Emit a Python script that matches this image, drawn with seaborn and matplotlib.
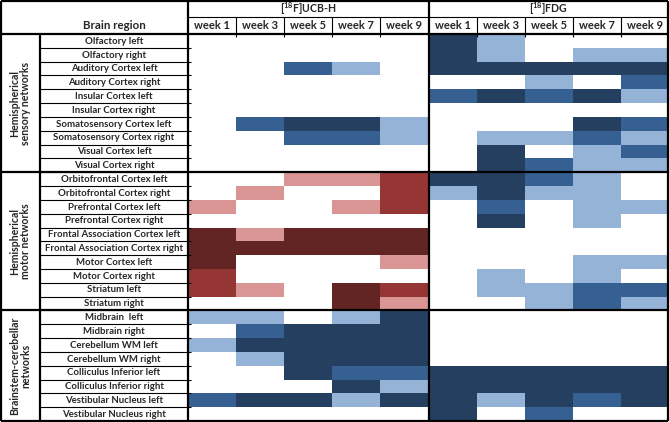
import numpy as np
import pandas as pd
import matplotlib
matplotlib.use("Agg")
import matplotlib.pyplot as plt
import seaborn as sns
from matplotlib.colors import ListedColormap

# table content
tracers = ["[$^{18}$F]UCB-H", "[$^{18}$]FDG"]
weeks = ["week 1", "week 3", "week 5", "week 7", "week 9"]
groups = ["Hemispherical\nsensory networks",
          "Hemispherical\nmotor networks",
          "Brainstem-cerebellar\nnetworks"]
group_sizes = [10, 10, 8]
regions = [
    "Olfactory left", "Olfactory right", "Auditory Cortex left", "Auditory Cortex right",
    "Insular Cortex left", "Insular Cortex right", "Somatosensory Cortex left",
    "Somatosensory Cortex right", "Visual Cortex left", "Visual Cortex right",
    "Orbitofrontal Cortex left", "Orbitofrontal Cortex right", "Prefrontal Cortex left",
    "Prefrontal Cortex right", "Frontal Association Cortex left",
    "Frontal Association Cortex right", "Motor Cortex left", "Motor Cortex right",
    "Striatum left", "Striatum right",
    "Midbrain  left", "Midbrain right", "Cerebellum WM left", "Cerebellum WM right",
    "Colliculus Inferior left", "Colliculus Inferior right", "Vestibular Nucleus left",
    "Vestibular Nucleus right",
]

# levels: 1..3 = blue (light, mid, dark), -1..-3 = red (light, mid, dark), 0 = none
ucbh = [
    [0, 0, 0, 0, 0], [0, 0, 0, 0, 0], [0, 0, 2, 1, 0], [0, 0, 0, 0, 0],
    [0, 0, 0, 0, 0], [0, 0, 0, 0, 0], [0, 2, 3, 3, 1], [0, 0, 2, 2, 1],
    [0, 0, 0, 0, 0], [0, 0, 0, 0, 0],
    [0, 0, -1, -1, -2], [0, -1, 0, 0, -2], [-1, 0, 0, -1, -2], [0, 0, 0, 0, 0],
    [-3, -1, -3, -3, -3], [-3, -3, -3, -3, -3], [-3, 0, 0, 0, -1], [-2, 0, 0, 0, 0],
    [-2, -1, 0, -3, -2], [0, 0, 0, -3, -1],
    [1, 1, 0, 1, 3], [0, 2, 3, 3, 3], [1, 3, 3, 3, 3], [0, 1, 3, 3, 3],
    [0, 0, 3, 2, 2], [0, 0, 0, 3, 1], [2, 3, 3, 1, 3], [0, 0, 0, 0, 0],
]
fdg = [
    [3, 1, 0, 0, 0], [3, 1, 0, 1, 1], [3, 3, 3, 3, 3], [0, 0, 1, 0, 2],
    [2, 3, 2, 3, 1], [0, 0, 0, 0, 0], [0, 0, 0, 3, 2], [0, 1, 1, 2, 1],
    [0, 3, 0, 1, 2], [0, 3, 2, 1, 1],
    [3, 3, 2, 1, 0], [1, 3, 1, 1, 0], [0, 2, 0, 1, 1], [0, 3, 0, 1, 0],
    [0, 0, 0, 0, 0], [0, 0, 0, 0, 0], [0, 0, 0, 1, 1], [0, 1, 0, 1, 0],
    [0, 1, 1, 2, 2], [0, 0, 1, 2, 1],
    [0, 0, 0, 0, 0], [0, 0, 0, 0, 0], [0, 0, 0, 0, 0], [0, 0, 0, 0, 0],
    [3, 3, 3, 3, 3], [3, 3, 3, 3, 3], [3, 1, 3, 2, 3], [3, 0, 2, 0, 0],
]

palette = ["#632523", "#963634", "#DA9694", "#FFFFFF", "#95B3D7", "#366092", "#243F60"]

sns.set_style("white")
plt.rcParams["font.family"] = ["Lato", "DejaVu Sans"]
plt.rcParams["mathtext.fontset"] = "custom"
plt.rcParams["mathtext.rm"] = "Lato:bold"
plt.rcParams["mathtext.default"] = "rm"

cols = [f"{t}|{w}" for t in ["UCB-H", "FDG"] for w in weeks]
df = pd.DataFrame(np.hstack([np.array(ucbh), np.array(fdg)]), index=regions, columns=cols)

fig = plt.figure(figsize=(6.69, 4.22), dpi=100)
ax = fig.add_axes([0, 0, 1, 1])
sns.heatmap(df, cmap=ListedColormap(palette), vmin=-3.5, vmax=3.5, cbar=False,
            xticklabels=False, yticklabels=False, ax=ax)

n = len(regions)
ncol = df.shape[1]
x_left = -3.909      # figure left edge in cell units
x_reg = -3.077       # left edge of region label column
y_top = -2.46        # figure top edge in row units
y_mid = -1.23        # divider between tracer row and week row
ax.set_xlim(x_left, ncol)
ax.set_ylim(n + 0.07, y_top)
ax.axis("off")

k = dict(color="black", solid_capstyle="butt")
thick, thin = 1.6, 0.8
xl, xr = x_left + 0.02, ncol - 0.02
yt, yb = y_top + 0.08, n - 0.02

# outer frame
ax.plot([xl, xr], [yt, yt], lw=thick, **k)
ax.plot([xl, xr], [yb, yb], lw=thick, **k)
ax.plot([xl, xl], [yt, yb], lw=thick, **k)
ax.plot([xr, xr], [yt, yb], lw=thick, **k)
# header lines
ax.plot([xl, xr], [0, 0], lw=thick, **k)
ax.plot([0, ncol], [y_mid, y_mid], lw=thin, **k)
for c in [1, 2, 3, 4, 6, 7, 8, 9]:
    ax.plot([c, c], [y_mid, 0.2], lw=thin, **k)
ax.plot([0, 0], [yt, yb], lw=thick, **k)
ax.plot([5, 5], [yt, yb], lw=thick, **k)
ax.plot([x_reg, x_reg], [0, yb], lw=thick, **k)

# row lines in the label column and group dividers
for i in range(1, n):
    ax.plot([x_reg, 0.06], [i, i], lw=thin, **k)
start = 0
for g, size in zip(groups, group_sizes):
    if start > 0:
        ax.plot([xl, xr], [start, start], lw=thick, **k)
    ax.text((x_left + x_reg) / 2, start + size / 2, g, rotation=90, ha="center",
            va="center", fontsize=7.6, fontweight="bold", linespacing=1.05)
    start += size

for i, r in enumerate(regions):
    ax.text(x_reg / 2, i + 0.52, r, ha="center", va="center", fontsize=6.9, fontweight="bold")

ax.text(x_reg / 2, y_mid / 2, "Brain region", ha="center", va="center",
        fontsize=8.3, fontweight="bold")
for t, tr in enumerate(tracers):
    ax.text(t * 5 + 2.5, (y_top + y_mid) / 2 + 0.05, tr, ha="center", va="center",
            fontsize=7.6, fontweight="bold")
    for j, w in enumerate(weeks):
        ax.text(t * 5 + j + 0.5, y_mid / 2, w, ha="center", va="center",
                fontsize=8, fontweight="bold")

fig.savefig("out.png", dpi=100)
